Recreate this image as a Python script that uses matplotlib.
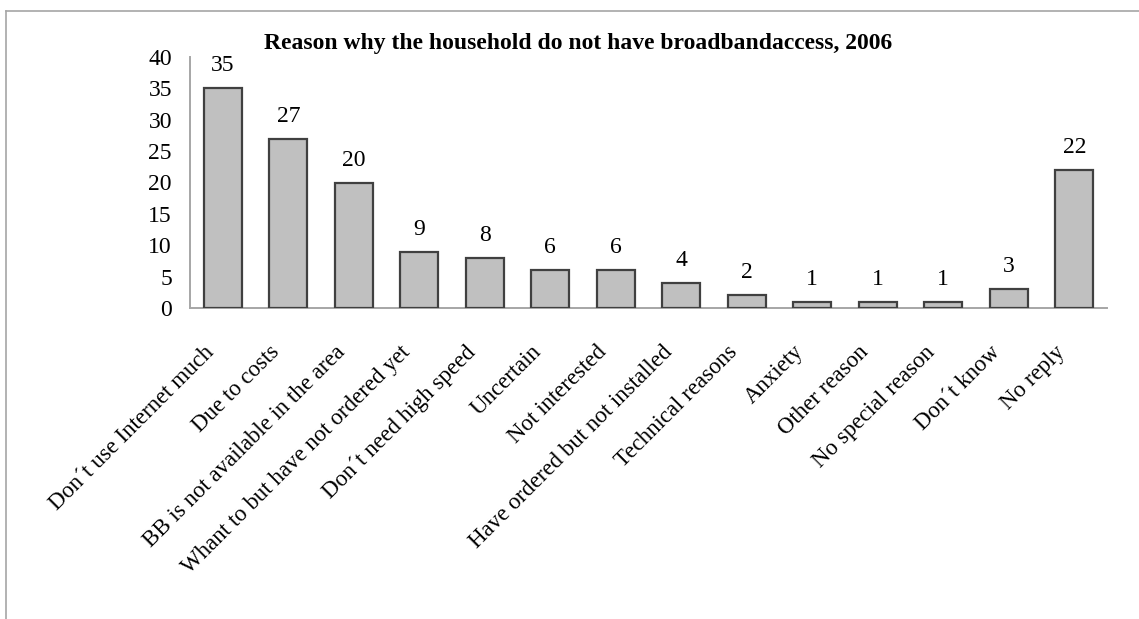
import matplotlib
matplotlib.use("Agg")
import matplotlib.pyplot as plt
from matplotlib.lines import Line2D
from matplotlib.transforms import ScaledTranslation

categories = [
    "Don´t use Internet much",
    "Due to costs",
    "BB is not available in the area",
    "Whant to but have not ordered yet",
    "Don´t need high speed",
    "Uncertain",
    "Not interested",
    "Have ordered but not installed",
    "Technical reasons",
    "Anxiety",
    "Other reason",
    "No special reason",
    "Don´t know",
    "No reply",
]
values = [35, 27, 20, 9, 8, 6, 6, 4, 2, 1, 1, 1, 3, 22]
y_ticks = [0, 5, 10, 15, 20, 25, 30, 35, 40]
title = "Reason why the household do not have broadbandaccess, 2006"

plt.rcParams["font.family"] = ["Liberation Serif", "DejaVu Serif"]

W, H = 1139, 619
DPI = 100
fig = plt.figure(figsize=(W / DPI, H / DPI), dpi=DPI)

# Chart area border (top and left edges visible)
fig.add_artist(Line2D([6 / W, 1.0], [1 - 10.5 / H, 1 - 10.5 / H], color="#a6a6a6", lw=1.2,
                      transform=fig.transFigure))
fig.add_artist(Line2D([6 / W, 6 / W], [0, 1 - 10.5 / H], color="#a6a6a6", lw=1.2,
                      transform=fig.transFigure))

left, right = 190 / W, 1107 / W
bottom, top = 1 - 308 / H, 1 - 57 / H
ax = fig.add_axes([left, bottom, right - left, top - bottom])

x = list(range(len(categories)))
ax.bar(x, values, width=0.58, color="#c0c0c0", edgecolor="#404040", linewidth=1.6,
       zorder=3)

FS = 17
for xi, v in zip(x, values):
    ax.annotate(str(v), (xi, v), xytext=(0, 12), textcoords="offset pixels",
                ha="center", va="bottom", fontsize=FS)

ax.set_xlim(-0.5, len(categories) - 0.5)
ax.set_ylim(0, 40)
ax.set_yticks(y_ticks)
ax.set_yticklabels([str(t) for t in y_ticks], fontsize=FS)
ax.tick_params(axis="y", length=0, pad=13)
ax.tick_params(axis="x", length=0, pad=29.5)
ax.set_xticks(x)
ax.set_xticklabels(categories, rotation=45, ha="right", va="center",
                   rotation_mode="anchor", fontsize=16.5)
shift = ScaledTranslation(-12 / DPI, 0, fig.dpi_scale_trans)
for lab in ax.get_xticklabels():
    lab.set_transform(lab.get_transform() + shift)

for s in ["top", "right"]:
    ax.spines[s].set_visible(False)
for s in ["left", "bottom"]:
    ax.spines[s].set_color("#a6a6a6")
    ax.spines[s].set_linewidth(1.4)

fig.text(578 / W, 1 - 43 / H, title, ha="center", va="center",
         fontsize=17, fontweight="bold")

fig.savefig("out.png", dpi=DPI)
